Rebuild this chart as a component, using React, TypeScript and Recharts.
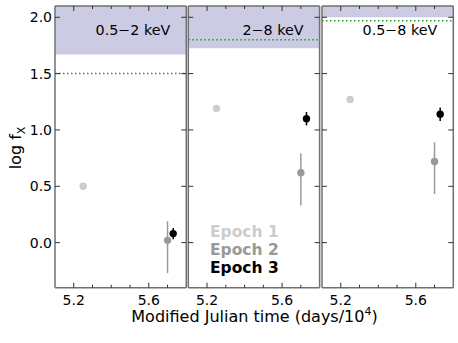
import React from 'react';
import {
  ScatterChart, Scatter, XAxis, YAxis, ErrorBar, ReferenceArea, ReferenceLine
} from 'recharts';

// epochs (MJD / 1e4) and their colours
const EPOCHS = ['Epoch 1', 'Epoch 2', 'Epoch 3'];
const EPOCH_MJD = [5.25, 5.70, 5.73];
const EPOCH_COLORS = ['#cccccc', '#999999', '#000000'];

// energy bands
const BANDS = ['0.5\u22122 keV', '2\u22128 keV', '0.5\u22128 keV'];

// log fX per epoch, per band
const LOGF_SOFT = [0.50, 0.02, 0.08];
const LOGF_HARD = [1.19, 0.62, 1.10];
const LOGF_FULL = [1.27, 0.72, 1.14];

// asymmetric errors (down, up)
const ERR_DOWN_SOFT = [0, 0.29, 0.05];
const ERR_UP_SOFT = [0, 0.17, 0.05];
const ERR_DOWN_HARD = [0, 0.29, 0.06];
const ERR_UP_HARD = [0, 0.17, 0.06];
const ERR_DOWN_FULL = [0, 0.29, 0.06];
const ERR_UP_FULL = [0, 0.17, 0.06];

// excluded region lower edge and limit line per band
const LIMIT_SHADE = [1.67, 1.725, 2.0];
const LIMIT_LINE = [1.5, 1.8, 1.97];

const X_DOMAIN = [5.1, 5.8];
const Y_DOMAIN = [-0.4, 2.1];
const X_TICKS = [5.2, 5.3, 5.4, 5.5, 5.6, 5.7];
const X_LABELS = [5.2, 5.6];
const Y_TICKS = [0, 0.5, 1.0, 1.5, 2.0];

const VALUES = [LOGF_SOFT, LOGF_HARD, LOGF_FULL];
const ERR_DOWN = [ERR_DOWN_SOFT, ERR_DOWN_HARD, ERR_DOWN_FULL];
const ERR_UP = [ERR_UP_SOFT, ERR_UP_HARD, ERR_UP_FULL];

// layout
const W = 458;
const H = 343;
const PLOT_TOP = 6;
const PLOT_BOTTOM = 287.7;
const PANEL_LEFT = [55, 188.3, 322];
const PANEL_W = 131.3;
const AX = 1; // size reserved by each axis
const FONT = 'DejaVu Sans';
const SPINE = '#707070';
const TICK_COLOR = '#333333';

const Panel = ({ idx }: { idx: number }) => {
  const left = PANEL_LEFT[idx];
  const right = left + PANEL_W;

  const bottomTick = (p: any) => {
    const major = X_LABELS.includes(p.payload.value);
    const len = major ? 5 : 3;
    return (
      <g>
        <line x1={p.x} x2={p.x} y1={PLOT_BOTTOM} y2={PLOT_BOTTOM - len} stroke={TICK_COLOR} />
        {major && (
          <text x={p.x} y={304.5} textAnchor="middle" fontFamily={FONT} fontSize={14} fill="#000">
            {p.payload.value.toFixed(1)}
          </text>
        )}
      </g>
    );
  };

  const topTick = (p: any) => {
    const major = X_LABELS.includes(p.payload.value);
    const len = major ? 5 : 3;
    return <line x1={p.x} x2={p.x} y1={PLOT_TOP} y2={PLOT_TOP + len} stroke={TICK_COLOR} />;
  };

  const leftTick = (p: any) => (
    <g>
      <line x1={left} x2={left + 5} y1={p.y} y2={p.y} stroke={TICK_COLOR} />
      {idx === 0 && (
        <text x={left - 3} y={p.y + 5} textAnchor="end" fontFamily={FONT} fontSize={14} fill="#000">
          {p.payload.value.toFixed(1)}
        </text>
      )}
    </g>
  );

  const rightTick = (p: any) => (
    <line x1={right} x2={right - 5} y1={p.y} y2={p.y} stroke={TICK_COLOR} />
  );

  const spine = { stroke: SPINE, strokeWidth: 1.5 };

  return (
    <div style={{ position: 'absolute', left: 0, top: 0 }}>
      <ScatterChart
        width={W}
        height={H}
        margin={{ top: PLOT_TOP - AX, bottom: H - PLOT_BOTTOM - AX, left: left - AX, right: W - right - AX }}
      >
        <XAxis xAxisId="bottom" type="number" dataKey="x" domain={X_DOMAIN} ticks={X_TICKS}
          allowDataOverflow height={AX} tickLine={false} tick={bottomTick}
          axisLine={spine} interval={0} />
        <XAxis xAxisId="top" orientation="top" type="number" dataKey="x" domain={X_DOMAIN} ticks={X_TICKS}
          allowDataOverflow height={AX} tickLine={false} tick={topTick}
          axisLine={spine} interval={0} />
        <YAxis yAxisId="left" type="number" dataKey="y" domain={Y_DOMAIN} ticks={Y_TICKS}
          allowDataOverflow width={AX} tickLine={false} tick={leftTick}
          axisLine={spine} interval={0} />
        <YAxis yAxisId="right" orientation="right" type="number" dataKey="y" domain={Y_DOMAIN} ticks={Y_TICKS}
          allowDataOverflow width={AX} tickLine={false} tick={rightTick}
          axisLine={spine} interval={0} />
        <ReferenceArea xAxisId="bottom" yAxisId="left" y1={LIMIT_SHADE[idx]} y2={Y_DOMAIN[1]}
          fill="#cbcbe4" fillOpacity={1} stroke="none" />
        <ReferenceLine xAxisId="bottom" yAxisId="left" y={LIMIT_LINE[idx]}
          stroke="#1f9e1f" strokeWidth={1.5} strokeDasharray="1.5 2.5" />
        {EPOCHS.map((name, e) => (
          <Scatter
            key={name}
            name={name}
            xAxisId="bottom"
            yAxisId="left"
            data={[{ x: EPOCH_MJD[e], y: VALUES[idx][e], err: [ERR_DOWN[idx][e], ERR_UP[idx][e]] }]}
            isAnimationActive={false}
            shape={(p: any) => <circle cx={p.cx} cy={p.cy} r={3.7} fill={EPOCH_COLORS[e]} />}
          >
            {e > 0 && (
              <ErrorBar dataKey="err" direction="y" width={0} stroke={EPOCH_COLORS[e]} strokeWidth={1.5}
                isAnimationActive={false} />
            )}
          </Scatter>
        ))}
      </ScatterChart>
    </div>
  );
};

const App = () => {
  return (
    <div style={{ position: 'absolute', left: 0, top: 0, width: W, height: H, background: '#fff' }}>
      {BANDS.map((b, i) => <Panel key={b} idx={i} />)}
      <svg width={W} height={H} style={{ position: 'absolute', left: 0, top: 0, pointerEvents: 'none' }}>
        {BANDS.map((b, i) => (
          <text key={b} x={PANEL_LEFT[i] + PANEL_W - 16} y={35} textAnchor="end"
            fontFamily={FONT} fontSize={14.3} fill="#000">{b}</text>
        ))}
        {EPOCHS.map((name, e) => (
          <text key={name} x={210} y={237 + e * 18} fontFamily={FONT} fontSize={15.5}
            fontWeight="bold" fill={EPOCH_COLORS[e]}>{name}</text>
        ))}
        <text x={254.5} y={322} textAnchor="middle" fontFamily={FONT} fontSize={16} fill="#000">
          Modified Julian time (days/10<tspan dy={-7} fontSize={11}>4</tspan><tspan dy={7}>)</tspan>
        </text>
        <text transform="translate(21,148) rotate(-90)" textAnchor="middle" fontFamily={FONT} fontSize={16} fill="#000">
          log f<tspan dy={4} fontSize={11}>X</tspan>
        </text>
      </svg>
    </div>
  );
};

export default App;
